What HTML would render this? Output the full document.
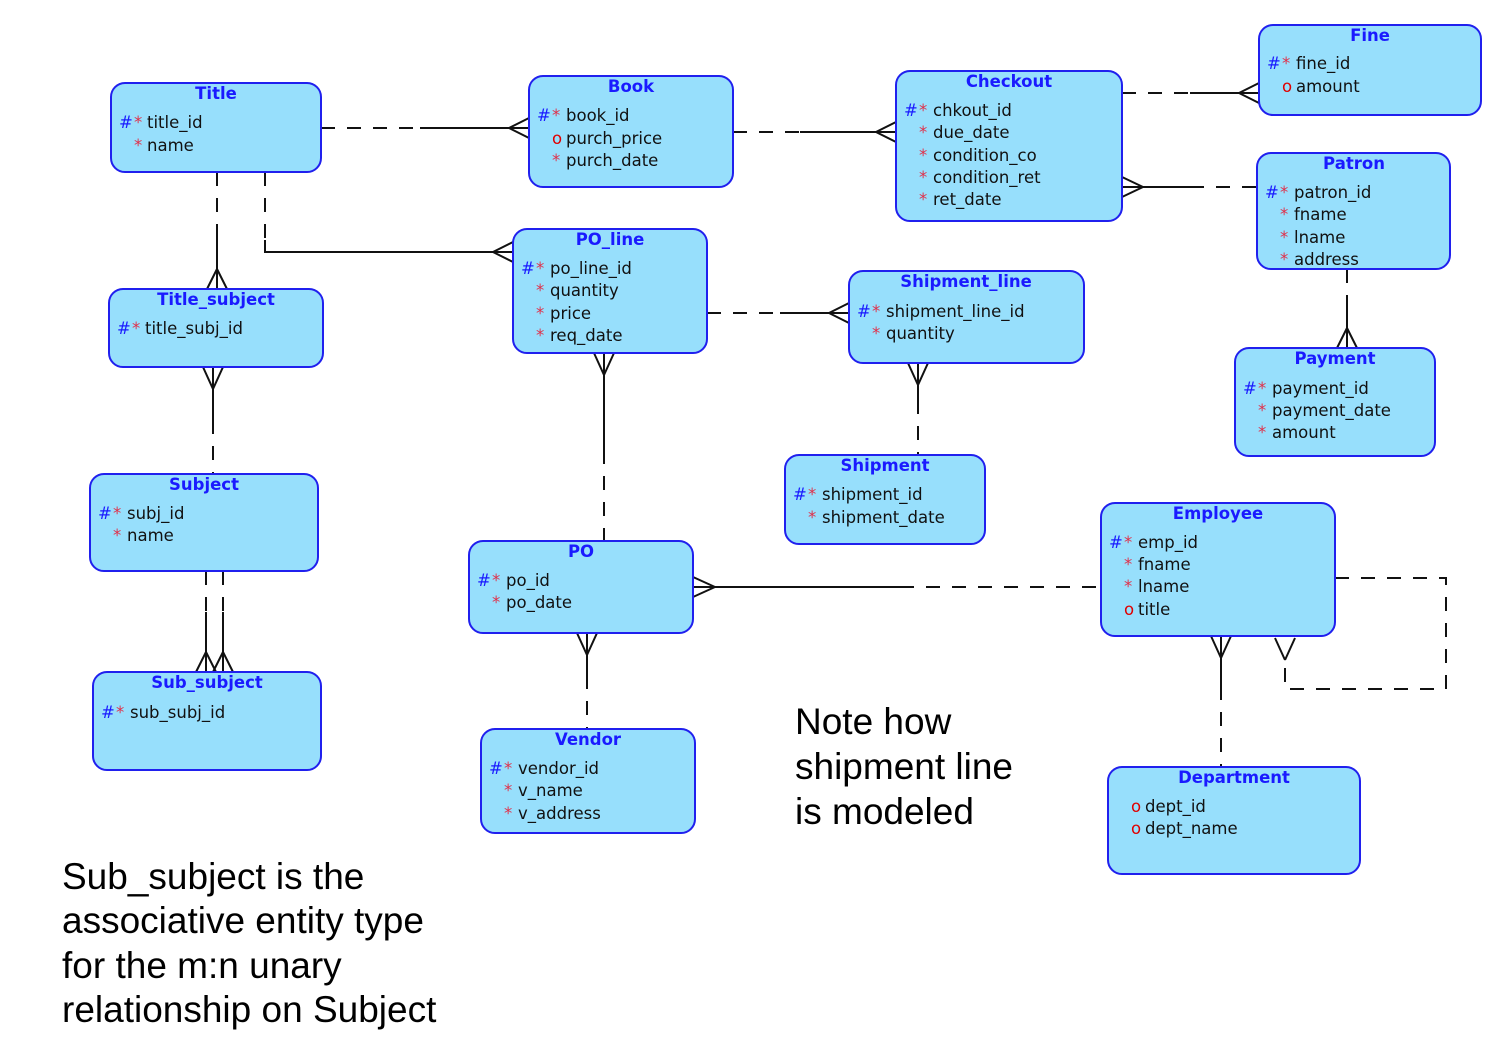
<!DOCTYPE html>
<html><head><meta charset="utf-8"><style>
html,body{margin:0;padding:0;background:#fff;}
svg{display:block}
.b{fill:#97dffc;stroke:#2020ee;stroke-width:2}
.h{font:bold 16.5px "DejaVu Sans","Liberation Sans",sans-serif;fill:#1a1aff;text-anchor:middle}
.a{font:16.5px "DejaVu Sans","Liberation Sans",sans-serif;fill:#111}
.p{fill:#1a1aff}.s{fill:#e0304a}.o{fill:#e00000}
.l{stroke:#111;stroke-width:2;fill:none}
.d{stroke:#111;stroke-width:2;fill:none;stroke-dasharray:14,12}
.n{font:37px "Liberation Sans",sans-serif;fill:#000}
</style></head><body>
<svg width="1500" height="1040" viewBox="0 0 1500 1040" xmlns="http://www.w3.org/2000/svg">
<path class="d" d="M321 128H420"/><path class="l" d="M420 128H529M509 128L529 118M509 128L529 138"/>
<path class="d" d="M733 132H800"/><path class="l" d="M800 132H896M876 132L896 122M876 132L896 142"/>
<path class="d" d="M1122 93H1190"/><path class="l" d="M1190 93H1259M1239 93L1259 83M1239 93L1259 103"/>
<path class="l" d="M1122 187H1190M1143 187L1122 177M1143 187L1122 197"/><path class="d" d="M1190 187H1257"/>
<path class="d" d="M217 172V230"/><path class="l" d="M217 230V289M217 269L207 289M217 269L227 289"/>
<path class="d" d="M265 172V240"/><path class="l" d="M265 240V252H513M493 252L513 242M493 252L513 262"/>
<path class="l" d="M213 367V420M213 389L203 367M213 389L223 367"/><path class="d" d="M213 420V474"/>
<path class="d" d="M707 313H780"/><path class="l" d="M780 313H849M829 313L849 303M829 313L849 323"/>
<path class="l" d="M604 353V450M604 375L594 353M604 375L614 353"/><path class="d" d="M604 450V541"/>
<path class="l" d="M918 363V400M918 385L908 363M918 385L928 363"/><path class="d" d="M918 400V455"/>
<path class="d" d="M1347 269V305"/><path class="l" d="M1347 305V348M1347 328L1337 348M1347 328L1357 348"/>
<path class="d" d="M206 571V612M223 571V612"/><path class="l" d="M206 612V672M206 652L196 672M206 652L216 672M223 612V672M223 652L213 672M223 652L233 672"/>
<path class="l" d="M587 633V675M587 655L577 633M587 655L597 633"/><path class="d" d="M587 675V729"/>
<path class="l" d="M693 587H900M715 587L693 577M715 587L693 597"/><path class="d" d="M900 587H1101"/>
<path class="l" d="M1221 636V700M1221 658L1211 636M1221 658L1231 636"/><path class="d" d="M1221 712V767"/>
<path class="d" d="M1335 578H1446V689H1285V662"/><path class="l" d="M1285 660L1275 638M1285 660L1295 638"/>

<rect class="b" x="111" y="83" width="210" height="89" rx="14"/>
<text class="h" x="216" y="99">Title</text>
<text class="a" x="119" y="128"><tspan class="p">#</tspan><tspan class="s" x="134">*</tspan><tspan x="147">title_id</tspan></text>
<text class="a" x="134" y="151"><tspan class="s">*</tspan><tspan x="147">name</tspan></text>

<rect class="b" x="529" y="76" width="204" height="111" rx="14"/>
<text class="h" x="631" y="92">Book</text>
<text class="a" x="537" y="121"><tspan class="p">#</tspan><tspan class="s" x="552">*</tspan><tspan x="566">book_id</tspan></text>
<text class="a" x="552" y="144"><tspan class="o">o</tspan><tspan x="566">purch_price</tspan></text>
<text class="a" x="552" y="166"><tspan class="s">*</tspan><tspan x="566">purch_date</tspan></text>

<rect class="b" x="896" y="71" width="226" height="150" rx="14"/>
<text class="h" x="1009" y="87">Checkout</text>
<text class="a" x="904" y="116"><tspan class="p">#</tspan><tspan class="s" x="919">*</tspan><tspan x="933">chkout_id</tspan></text>
<text class="a" x="919" y="138"><tspan class="s">*</tspan><tspan x="933">due_date</tspan></text>
<text class="a" x="919" y="161"><tspan class="s">*</tspan><tspan x="933">condition_co</tspan></text>
<text class="a" x="919" y="183"><tspan class="s">*</tspan><tspan x="933">condition_ret</tspan></text>
<text class="a" x="919" y="205"><tspan class="s">*</tspan><tspan x="933">ret_date</tspan></text>

<rect class="b" x="1259" y="25" width="222" height="90" rx="14"/>
<text class="h" x="1370" y="41">Fine</text>
<text class="a" x="1267" y="69"><tspan class="p">#</tspan><tspan class="s" x="1282">*</tspan><tspan x="1296">fine_id</tspan></text>
<text class="a" x="1282" y="92"><tspan class="o">o</tspan><tspan x="1296">amount</tspan></text>

<rect class="b" x="1257" y="153" width="193" height="116" rx="14"/>
<text class="h" x="1354" y="169">Patron</text>
<text class="a" x="1265" y="198"><tspan class="p">#</tspan><tspan class="s" x="1280">*</tspan><tspan x="1294">patron_id</tspan></text>
<text class="a" x="1280" y="220"><tspan class="s">*</tspan><tspan x="1294">fname</tspan></text>
<text class="a" x="1280" y="243"><tspan class="s">*</tspan><tspan x="1294">lname</tspan></text>
<text class="a" x="1280" y="265"><tspan class="s">*</tspan><tspan x="1294">address</tspan></text>

<rect class="b" x="109" y="289" width="214" height="78" rx="14"/>
<text class="h" x="216" y="305">Title_subject</text>
<text class="a" x="117" y="334"><tspan class="p">#</tspan><tspan class="s" x="132">*</tspan><tspan x="145">title_subj_id</tspan></text>

<rect class="b" x="513" y="229" width="194" height="124" rx="14"/>
<text class="h" x="610" y="245">PO_line</text>
<text class="a" x="521" y="274"><tspan class="p">#</tspan><tspan class="s" x="536">*</tspan><tspan x="550">po_line_id</tspan></text>
<text class="a" x="536" y="296"><tspan class="s">*</tspan><tspan x="550">quantity</tspan></text>
<text class="a" x="536" y="319"><tspan class="s">*</tspan><tspan x="550">price</tspan></text>
<text class="a" x="536" y="341"><tspan class="s">*</tspan><tspan x="550">req_date</tspan></text>

<rect class="b" x="849" y="271" width="235" height="92" rx="14"/>
<text class="h" x="966" y="287">Shipment_line</text>
<text class="a" x="857" y="317"><tspan class="p">#</tspan><tspan class="s" x="872">*</tspan><tspan x="886">shipment_line_id</tspan></text>
<text class="a" x="872" y="339"><tspan class="s">*</tspan><tspan x="886">quantity</tspan></text>

<rect class="b" x="1235" y="348" width="200" height="108" rx="14"/>
<text class="h" x="1335" y="364">Payment</text>
<text class="a" x="1243" y="394"><tspan class="p">#</tspan><tspan class="s" x="1258">*</tspan><tspan x="1272">payment_id</tspan></text>
<text class="a" x="1258" y="416"><tspan class="s">*</tspan><tspan x="1272">payment_date</tspan></text>
<text class="a" x="1258" y="438"><tspan class="s">*</tspan><tspan x="1272">amount</tspan></text>

<rect class="b" x="90" y="474" width="228" height="97" rx="14"/>
<text class="h" x="204" y="490">Subject</text>
<text class="a" x="98" y="519"><tspan class="p">#</tspan><tspan class="s" x="113">*</tspan><tspan x="127">subj_id</tspan></text>
<text class="a" x="113" y="541"><tspan class="s">*</tspan><tspan x="127">name</tspan></text>

<rect class="b" x="785" y="455" width="200" height="89" rx="14"/>
<text class="h" x="885" y="471">Shipment</text>
<text class="a" x="793" y="500"><tspan class="p">#</tspan><tspan class="s" x="808">*</tspan><tspan x="822">shipment_id</tspan></text>
<text class="a" x="808" y="523"><tspan class="s">*</tspan><tspan x="822">shipment_date</tspan></text>

<rect class="b" x="1101" y="503" width="234" height="133" rx="14"/>
<text class="h" x="1218" y="519">Employee</text>
<text class="a" x="1109" y="548"><tspan class="p">#</tspan><tspan class="s" x="1124">*</tspan><tspan x="1138">emp_id</tspan></text>
<text class="a" x="1124" y="570"><tspan class="s">*</tspan><tspan x="1138">fname</tspan></text>
<text class="a" x="1124" y="592"><tspan class="s">*</tspan><tspan x="1138">lname</tspan></text>
<text class="a" x="1124" y="615"><tspan class="o">o</tspan><tspan x="1138">title</tspan></text>

<rect class="b" x="469" y="541" width="224" height="92" rx="14"/>
<text class="h" x="581" y="557">PO</text>
<text class="a" x="477" y="586"><tspan class="p">#</tspan><tspan class="s" x="492">*</tspan><tspan x="506">po_id</tspan></text>
<text class="a" x="492" y="608"><tspan class="s">*</tspan><tspan x="506">po_date</tspan></text>

<rect class="b" x="93" y="672" width="228" height="98" rx="14"/>
<text class="h" x="207" y="688">Sub_subject</text>
<text class="a" x="101" y="718"><tspan class="p">#</tspan><tspan class="s" x="116">*</tspan><tspan x="130">sub_subj_id</tspan></text>

<rect class="b" x="481" y="729" width="214" height="104" rx="14"/>
<text class="h" x="588" y="745">Vendor</text>
<text class="a" x="489" y="774"><tspan class="p">#</tspan><tspan class="s" x="504">*</tspan><tspan x="518">vendor_id</tspan></text>
<text class="a" x="504" y="796"><tspan class="s">*</tspan><tspan x="518">v_name</tspan></text>
<text class="a" x="504" y="819"><tspan class="s">*</tspan><tspan x="518">v_address</tspan></text>

<rect class="b" x="1108" y="767" width="252" height="107" rx="14"/>
<text class="h" x="1234" y="783">Department</text>
<text class="a" x="1131" y="812"><tspan class="o">o</tspan><tspan x="1145">dept_id</tspan></text>
<text class="a" x="1131" y="834"><tspan class="o">o</tspan><tspan x="1145">dept_name</tspan></text>

<text class="n" x="795" y="734">Note how</text>
<text class="n" x="795" y="779">shipment line</text>
<text class="n" x="795" y="824">is modeled</text>
<text class="n" x="62" y="889">Sub_subject is the</text>
<text class="n" x="62" y="933">associative entity type</text>
<text class="n" x="62" y="978">for the m:n unary</text>
<text class="n" x="62" y="1022">relationship on Subject</text>
</svg>
</body></html>
